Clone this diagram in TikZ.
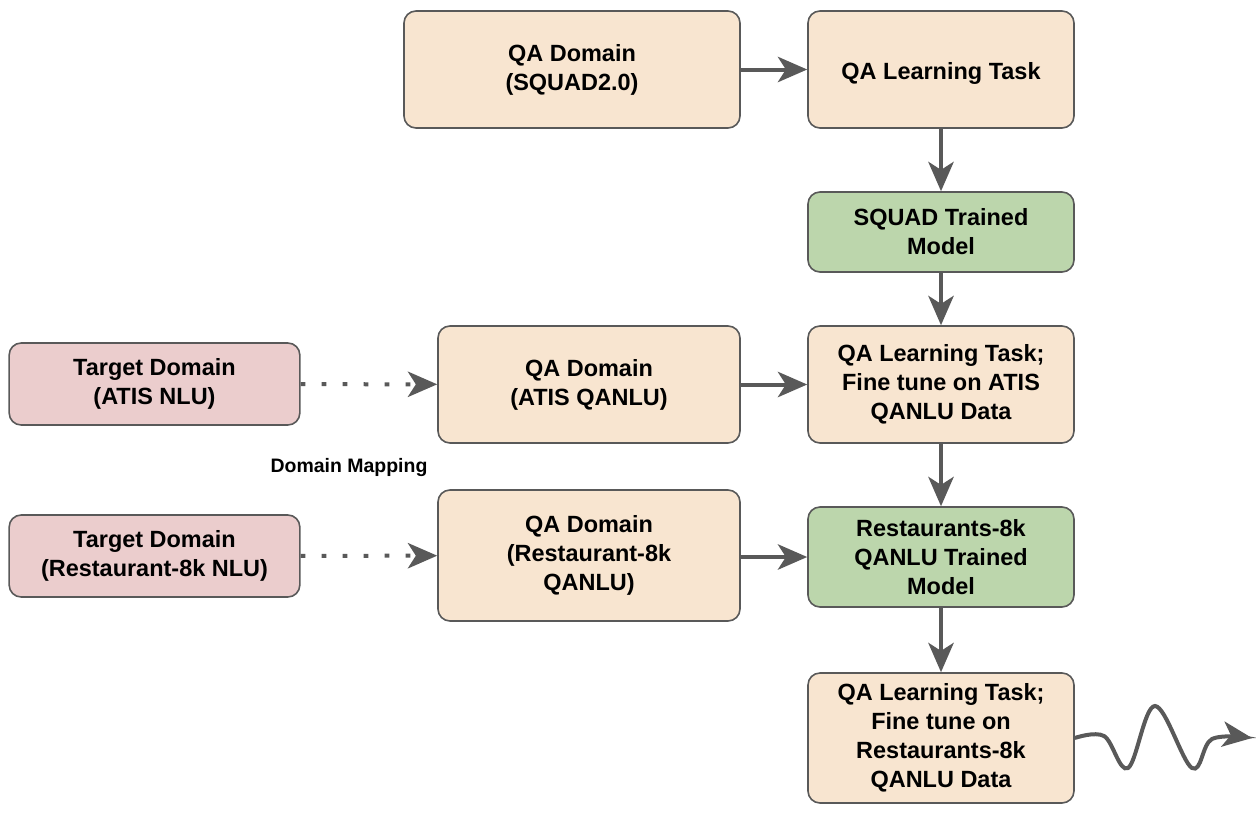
\documentclass[tikz,border=0pt]{standalone}
\usepackage{fontspec}
\setmainfont{Liberation Sans}
\usetikzlibrary{arrows.meta}
\definecolor{peach}{HTML}{F8E5D0}
\definecolor{mint}{HTML}{BCD6AC}
\definecolor{rose}{HTML}{EBCDCD}
\definecolor{edge}{HTML}{595959}
\tikzset{
  box/.style={draw=edge, line width=1.2pt, rounded corners=9pt, align=center,
    font=\fontsize{17.6}{21.75}\selectfont\bfseries, inner sep=2pt,
    execute at begin node={\rule{0pt}{19pt}}},
  task/.style={box, fill=peach, minimum width=199.5pt},
  trained/.style={box, fill=mint, minimum width=199.5pt},
  target/.style={box, fill=rose, minimum width=218pt, minimum height=61.5pt},
  flow/.style={draw=edge, line width=3pt, -{Stealth[length=22pt, width=19pt, inset=6pt]}},
  mapping/.style={flow, dash pattern=on 3.5pt off 12.25pt}
}
\begin{document}
\begin{tikzpicture}[x=0.75pt, y=-0.75pt]
  \useasboundingbox (0,0) rectangle (1256,818);
  \draw
    (572,69.5) node[task, minimum width=252pt, minimum height=87.75pt] (squad){QA Domain\\(SQUAD2.0)}
    (941,69.5) node[task, minimum height=87.75pt] (learn){QA Learning Task}
    (941,232) node[trained, minimum height=60pt] (sqmodel){SQUAD Trained\\Model}
    (941,384.5) node[task, minimum height=87.75pt] (atistune){QA Learning Task;\\Fine tune on ATIS\\QANLU Data}
    (941,557) node[trained, minimum height=75pt] (remodel){Restaurants-8k\\QANLU Trained\\Model}
    (941,738) node[task, minimum height=97.5pt] (retune){QA Learning Task;\\Fine tune on\\Restaurants-8k\\QANLU Data}
    (154.5,384) node[target] (atisnlu){Target Domain\\(ATIS NLU)}
    (589,384.5) node[task, minimum width=226.5pt, minimum height=87.75pt] (atisqa){QA Domain\\(ATIS QANLU)}
    (154.5,556) node[target] (renlu){Target Domain\\(Restaurant-8k NLU)}
    (589,555.5) node[task, minimum width=226.5pt, minimum height=98.25pt] (reqa){QA Domain\\(Restaurant-8k\\QANLU)}
    (349,468) node[font=\fontsize{14.6}{17}\selectfont\bfseries] (maplabel){Domain Mapping};
  \coordinate (waveend) at (1252,738);
  \begin{scope}[flow]
    \draw (squad) to (learn);
    \draw (learn) to (sqmodel);
    \draw (sqmodel) to (atistune);
    \draw (atisqa) to (atistune);
    \draw (atistune) to (remodel);
    \draw (reqa.east |- remodel) to (remodel);
    \draw (remodel) to (retune);
  \end{scope}
  \begin{scope}[mapping]
    \draw (atisnlu) to (atisqa);
    \draw (renlu) to (reqa);
  \end{scope}
  \draw[flow] plot[smooth, tension=0.6] coordinates {(retune.east) (1104,736) (1128,768)
    (1155,706) (1192,768) (1212,739) (waveend)};
\end{tikzpicture}
\end{document}
